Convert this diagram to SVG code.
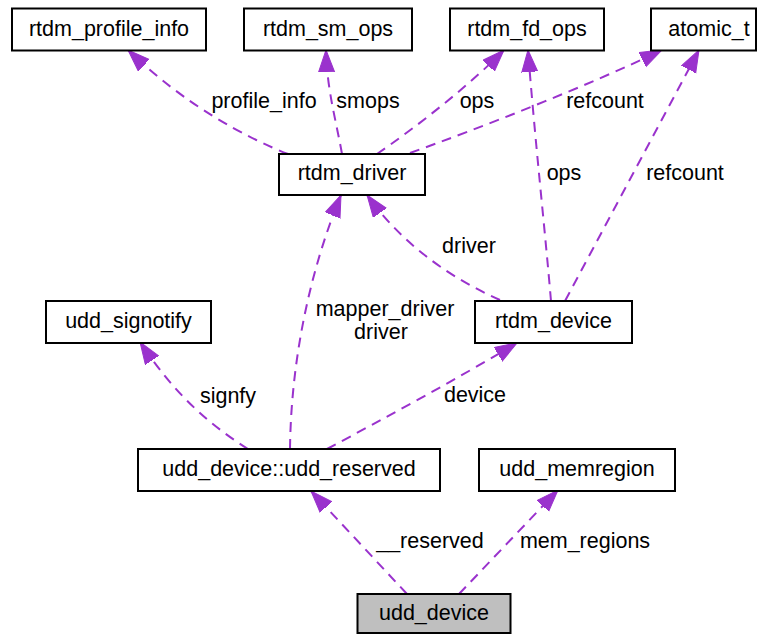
<svg xmlns="http://www.w3.org/2000/svg" width="758" height="634" viewBox="0 0 758 634">
<style>
.node rect{fill:#ffffff;stroke:#000000;stroke-width:2}
.node.main rect{fill:#bfbfbf}
.node text{font-family:"Liberation Sans",Arial,Helvetica,sans-serif;font-size:21.5px;text-anchor:middle;fill:#000000}
.edges path{fill:none;stroke:#9a32cd;stroke-width:2;stroke-dasharray:10,7;marker-end:url(#ah)}
.edges text{font-family:"Liberation Sans",Arial,Helvetica,sans-serif;font-size:21.5px;text-anchor:middle;fill:#000000}
</style>
<defs>
<marker id="ah" markerUnits="userSpaceOnUse" markerWidth="24" markerHeight="18" refX="22" refY="8.5" orient="auto">
<path d="M0,0.5 L22,8.5 L0,16.5 Z" fill="#9a32cd" stroke="#9a32cd" stroke-width="1"/>
</marker>
</defs>
<rect width="758" height="634" fill="#ffffff"/>
<g class="edges" id="edges">
<path d="M288,154 C245,137 185,105 128,50"/>
<text x="264" y="108">profile_info</text>
<path d="M342,154 C336,120 327,90 326,50"/>
<text x="368" y="108">smops</text>
<path d="M377,154 C415,128 470,85 504,50"/>
<text x="477" y="108">ops</text>
<path d="M410,153 C480,128 590,85 662,50"/>
<text x="605" y="108">refcount</text>
<path d="M551,301 C545,230 535,140 528,50"/>
<text x="564" y="180">ops</text>
<path d="M565,301 L699,50"/>
<text x="685" y="180">refcount</text>
<path d="M500,300 C455,280 405,248 367,195"/>
<text x="469" y="253">driver</text>
<path d="M290,449 C291,360 310,270 341,195"/>
<text x="385" y="316">mapper_driver</text>
<text x="381" y="339">driver</text>
<path d="M248,449 C210,425 175,395 140,342"/>
<text x="228" y="403">signfy</text>
<path d="M327,449 C385,418 455,380 517,343"/>
<text x="475" y="402">device</text>
<path d="M407,594 L311,491"/>
<text x="430" y="548">__reserved</text>
<path d="M459,594 L558,490"/>
<text x="585" y="548">mem_regions</text>
</g>
<g class="node" id="rtdm_profile_info"><rect x="12" y="8.5" width="194" height="42"/><text x="109" y="36">rtdm_profile_info</text></g>
<g class="node" id="rtdm_sm_ops"><rect x="244" y="8.5" width="168" height="42"/><text x="328" y="36">rtdm_sm_ops</text></g>
<g class="node" id="rtdm_fd_ops"><rect x="450" y="8.5" width="154" height="42"/><text x="527" y="36">rtdm_fd_ops</text></g>
<g class="node" id="atomic_t"><rect x="651" y="8.5" width="105" height="42"/><text x="709" y="36">atomic_t</text></g>
<g class="node" id="rtdm_driver"><rect x="279" y="154" width="146" height="41"/><text x="352" y="180">rtdm_driver</text></g>
<g class="node" id="udd_signotify"><rect x="46" y="301" width="165" height="42"/><text x="128.5" y="328">udd_signotify</text></g>
<g class="node" id="rtdm_device"><rect x="475" y="301" width="157" height="42"/><text x="553.5" y="328">rtdm_device</text></g>
<g class="node" id="udd_reserved"><rect x="138" y="449" width="302" height="42"/><text x="289" y="476">udd_device::udd_reserved</text></g>
<g class="node" id="udd_memregion"><rect x="479" y="449" width="196" height="42"/><text x="577" y="476">udd_memregion</text></g>
<g class="node main" id="udd_device"><rect x="357.5" y="594" width="153" height="39"/><text x="434" y="620">udd_device</text></g>
</svg>
